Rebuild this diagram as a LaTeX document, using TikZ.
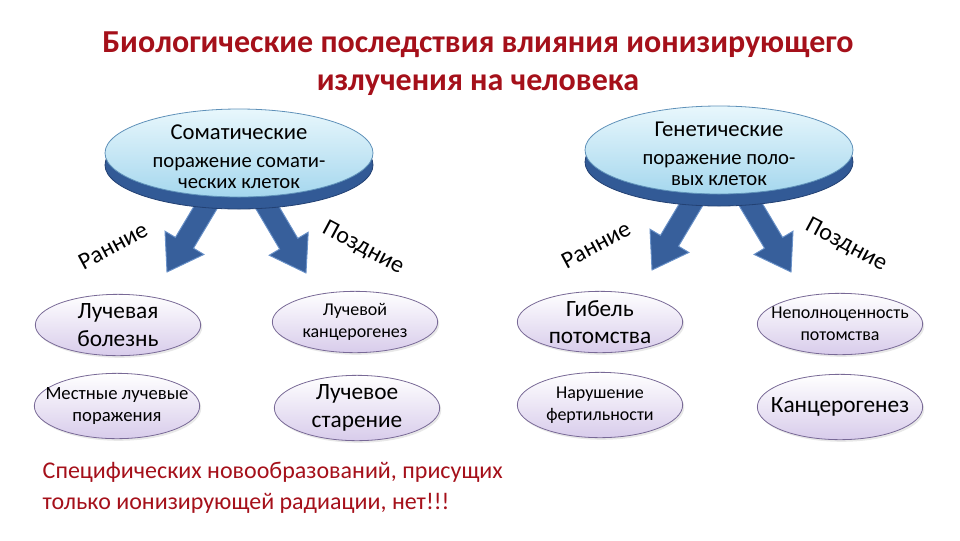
\documentclass[tikz,border=0pt]{standalone}
\usepackage{fontspec}
\setmainfont{Carlito}
\usetikzlibrary{calc,shapes.geometric,backgrounds,shadows}
\definecolor{ttl}{RGB}{165,16,26}
\definecolor{discedge}{RGB}{95,145,185}
\definecolor{disctop}{RGB}{232,247,252}
\definecolor{discbot}{RGB}{165,215,238}
\definecolor{basefill}{RGB}{50,90,150}
\definecolor{baseedge}{RGB}{35,65,115}
\definecolor{blkfill}{RGB}{55,95,155}
\definecolor{blkedge}{RGB}{105,145,200}
\definecolor{ovfill}{RGB}{216,204,235}
\definecolor{ovedge}{RGB}{120,105,150}
% block arrow from a tail point (hidden under the disc) to its tip
\newcommand{\blkarrow}[2]{%
  \coordinate (hb) at ($(#2)!25.5pt!(#1)$);
  \draw[blk] ($(#1)!7.9pt!90:(#2)$) -- ($(hb)!7.9pt!90:(#2)$)
    -- ($(hb)!17pt!90:(#2)$) -- (#2) -- ($(hb)!17pt!-90:(#2)$)
    -- ($(hb)!7.9pt!-90:(#2)$) -- ($(#1)!7.9pt!-90:(#2)$) -- cycle;}
\tikzset{
  disc/.style={ellipse,draw=discedge,line width=.6pt,top color=disctop,bottom color=discbot,
    minimum width=201pt,minimum height=66pt,inner sep=0pt},
  discb/.style={ellipse,draw=baseedge,fill=basefill,line width=.6pt,
    minimum width=201pt,minimum height=66pt,inner sep=0pt},
  ov/.style={ellipse,draw=ovedge,line width=.6pt,top color=white,bottom color=ovfill,
    minimum width=124pt,minimum height=46pt,inner sep=0pt,
    drop shadow={opacity=.18,shadow xshift=1.2pt,shadow yshift=-1.6pt}},
  ovt/.style={ov,minimum height=49pt},
  blk/.style={draw=blkedge,fill=blkfill,line width=.7pt,line join=miter},
  tt/.style={font=\fontsize{24}{28.5}\selectfont\bfseries,text=ttl,align=center},
  hd/.style={align=center,font=\fontsize{15.5}{16}\selectfont},
  big/.style={align=center,font=\fontsize{17.5}{20.5}\selectfont},
  sm/.style={align=center,font=\fontsize{13.5}{16.5}\selectfont},
  tm/.style={font=\fontsize{18}{22}\selectfont},
  nt/.style={align=left,font=\fontsize{18}{23}\selectfont,text=ttl},
}
\begin{document}
\begin{tikzpicture}[x=0.75pt,y=-0.75pt]
\useasboundingbox (0,0) rectangle (960,540);
\node[tt] (title) at (478,64) {Биологические последствия влияния ионизирующего\\излучения на человека};

% top discs
\node[discb] (somab) at (239,165) {};
\node[disc] (soma) at (239,153) {};
\node[hd] (somat) at (239,157) {{\fontsize{17}{20}\selectfont Соматические}\\[5pt]поражение сомати-\\ческих клеток};
\node[discb] (genb) at (719,162) {};
\node[disc] (gen) at (719,150) {};
\node[hd] (gent) at (719,154) {{\fontsize{17}{20}\selectfont Генетические}\\[5pt]поражение поло-\\вых клеток};

% arrows
\coordinate (a1s) at (216,190); \coordinate (a1e) at (167,272);
\coordinate (a2s) at (257,190); \coordinate (a2e) at (306,273);
\coordinate (a3s) at (701,188); \coordinate (a3e) at (652,270);
\coordinate (a4s) at (742,190); \coordinate (a4e) at (791,272);
\begin{scope}[on background layer]
  \blkarrow{a1s}{a1e}
  \blkarrow{a2s}{a2e}
  \blkarrow{a3s}{a3e}
  \blkarrow{a4s}{a4e}
\end{scope}
\node[tm,rotate=28] (ear1) at (113,246) {Ранние};
\node[tm,rotate=-28] (late1) at (363,248) {Поздние};
\node[tm,rotate=28] (ear2) at (596,245) {Ранние};
\node[tm,rotate=-28] (late2) at (846,245) {Поздние};

% outcomes
\node[ov] (e1) at (118,325) {};
\node[big] (t1) at (e1) {Лучевая\\болезнь};
\node[ov] (e2) at (355,322) {};
\node[sm] (t2) at (e2) {Лучевой\\канцерогенез};
\node[ovt] (e3) at (117,406) {};
\node[sm,font=\fontsize{14}{17}\selectfont] (t3) at (e3) {Местные лучевые\\поражения};
\node[ovt] (e4) at (357,408) {};
\node[big] (t4) at (e4) {Лучевое\\старение};
\node[ov] (e5) at (600,322) {};
\node[big] (t5) at (e5) {Гибель\\потомства};
\node[ov] (e6) at (840,324) {};
\node[sm] (t6) at (e6) {Неполноценность\\потомства};
\node[ovt] (e7) at (600,405) {};
\node[sm] (t7) at (e7) {Нарушение\\фертильности};
\node[ovt] (e8) at (840,407) {};
\node[big] (t8) at (e8) {Канцерогенез};

\node[nt,anchor=west] (note) at (38,488) {Специфических новообразований, присущих\\только ионизирующей радиации, нет!!!};
\end{tikzpicture}
\end{document}
